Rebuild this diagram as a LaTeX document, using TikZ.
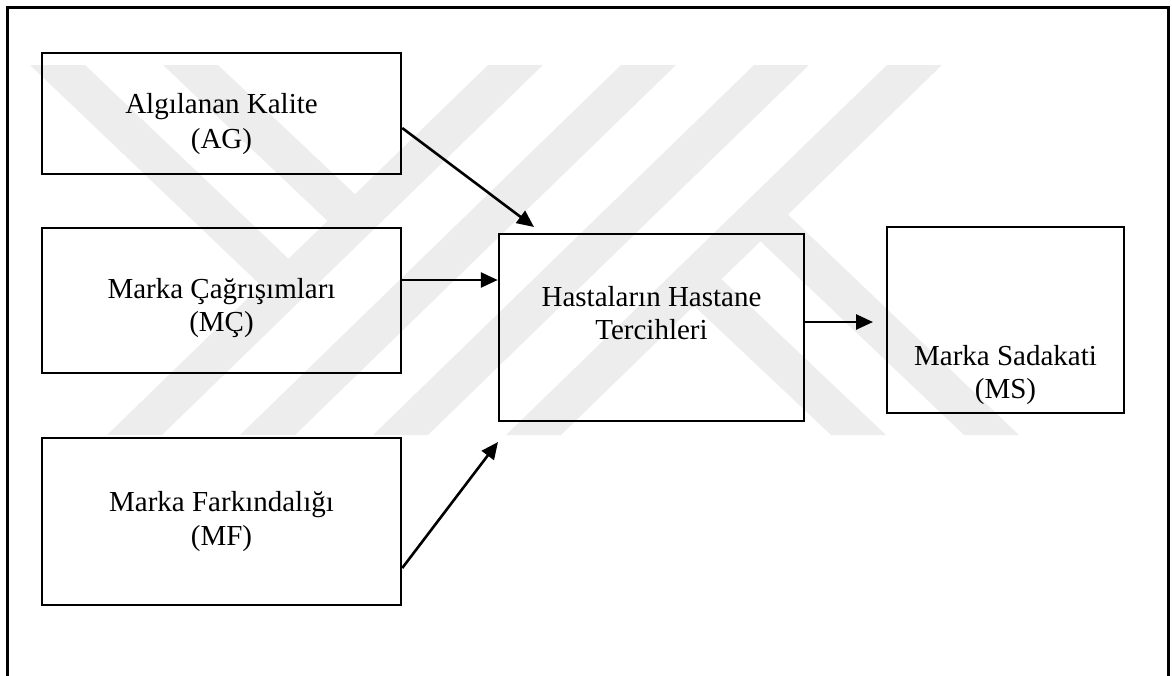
\documentclass[tikz,border=0pt]{standalone}
\usepackage{fontspec}
\setmainfont{Liberation Serif}
\usetikzlibrary{arrows.meta}
\definecolor{wm}{RGB}{237,237,237}
\begin{document}
\begin{tikzpicture}[x=1pt,y=-1pt,
  box/.style={draw=black, line width=2.5pt, inner sep=0pt, rectangle},
  lbl/.style={anchor=base, inner sep=0pt, font=\fontsize{29}{34}\selectfont},
  arr/.style={draw=black, line width=2.6pt, -{Triangle[length=17pt,width=15pt]}},
  band/.style={fill=wm, draw=none}]
\useasboundingbox (0,0) rectangle (1172,675);
\clip (0,0) rectangle (1172,675);
% watermark
\fill[band] (107,435) -- (162,435) -- (543,65) -- (488,65) -- cycle;
\fill[band] (240,435) -- (295,435) -- (676,65) -- (621,65) -- cycle;
\fill[band] (373,435) -- (428,435) -- (809,65) -- (754,65) -- cycle;
\fill[band] (506,435) -- (561,435) -- (942,65) -- (887,65) -- cycle;
\fill[band] (30,65) -- (85,65) -- (290.6,260.7) -- (263,287.4) -- cycle;
\fill[band] (163,65) -- (218,65) -- (357,196.1) -- (329.5,222.8) -- cycle;
\fill[band] (886,435) -- (831,435) -- (692,303.9) -- (719.5,277.2) -- cycle;
\fill[band] (1019,435) -- (964,435) -- (758.4,239.3) -- (786,212.6) -- cycle;
% frame
\draw[line width=3pt] (7,7) rectangle (1168,700);
% boxes
\node[box, minimum width=359pt, minimum height=121pt] (ag) at (221.5,113.5) {};
\node[box, minimum width=359pt, minimum height=145pt] (mc) at (221.5,300.5) {};
\node[box, minimum width=359pt, minimum height=167pt] (mf) at (221.5,521.5) {};
\node[box, minimum width=305pt, minimum height=187pt] (hc) at (651.5,327.5) {};
\node[box, minimum width=237pt, minimum height=186pt] (ms) at (1005.5,320) {};
% labels
\node[lbl] (ag1) at (221.5,113) {Algılanan Kalite};
\node[lbl] (ag2) at (221.5,148) {(AG)};
\node[lbl] (mc1) at (221.5,298) {Marka Çağrışımları};
\node[lbl] (mc2) at (221.5,331) {(MÇ)};
\node[lbl] (mf1) at (221.5,511) {Marka Farkındalığı};
\node[lbl] (mf2) at (221.5,545) {(MF)};
\node[lbl] (hc1) at (651.5,306) {Hastaların Hastane};
\node[lbl] (hc2) at (651.5,339) {Tercihleri};
\node[lbl] (ms1) at (1005.5,365) {Marka Sadakati};
\node[lbl] (ms2) at (1005.5,398) {(MS)};
% arrow tips
\coordinate (t1) at (534,227);
\coordinate (t3) at (498,442);
\coordinate (t4) at (873,322);
% arrows
\draw[arr] ([yshift=-14.5pt]ag.east) -- (t1);
\draw[arr] ([yshift=20.5pt]mc.east) -- ([yshift=47.5pt]hc.west);
\draw[arr] ([yshift=-46.5pt]mf.east) -- (t3);
\draw[arr] ([yshift=5.5pt]hc.east) -- (t4);
\end{tikzpicture}
\end{document}
